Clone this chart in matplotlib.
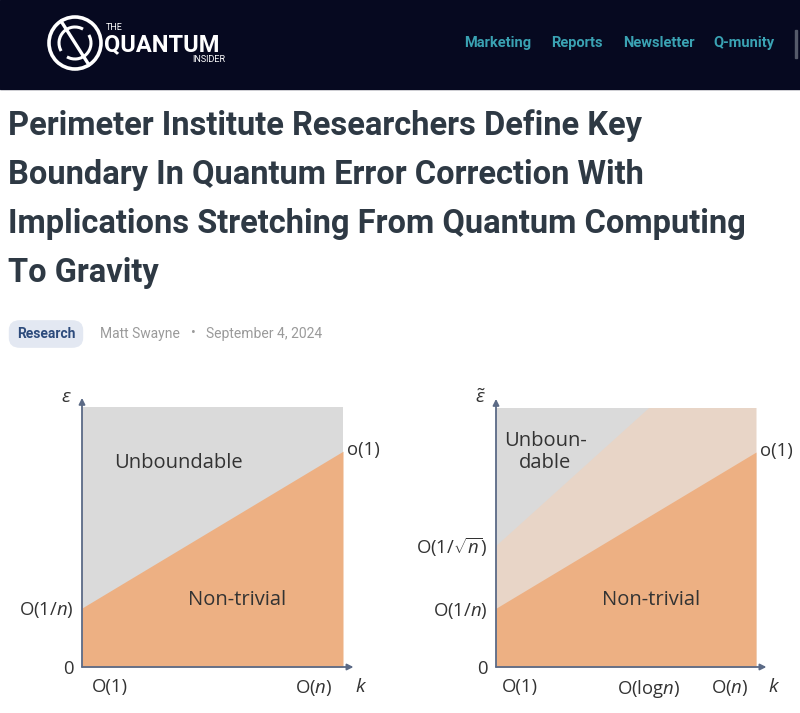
import numpy as np
import matplotlib.pyplot as plt
from matplotlib.patches import Circle, Arc, FancyBboxPatch, Rectangle

plt.rcParams['mathtext.fontset'] = 'custom'
plt.rcParams['mathtext.rm'] = 'Open Sans'
plt.rcParams['mathtext.it'] = 'Open Sans:italic'

W, H = 800, 713

# page text
nav_items = ['Marketing', 'Reports', 'Newsletter', 'Q-munity']
nav_x = [498, 577, 659, 744]
title_lines = ['Perimeter Institute Researchers Define Key',
               'Boundary In Quantum Error Correction With',
               'Implications Stretching From Quantum Computing',
               'To Gravity']
category = 'Research'
author = 'Matt Swayne'
date = 'September 4, 2024'

# chart data (k on x, error on y, both normalised 0..1)
k_edges = [0.0, 1.0]
lower_bound = [0.227, 0.83]          # O(1/n) -> o(1)
upper_bound_right = [0.47, 1.376]    # O(1/sqrt n) -> beyond top
left_xticks = [0.108, 0.888]
left_xlabels = ['O(1)', r'O($n$)']
left_yticks = [0.0, 0.227]
left_ylabels = ['0', r'O(1/$n$)']
right_xticks = [0.092, 0.585, 0.90]
right_xlabels = ['O(1)', r'O(log$n$)', r'O($n$)']
right_yticks = [0.0, 0.227, 0.47]
right_ylabels = ['0', r'O(1/$n$)', r'O(1/$\sqrt{n}$)']

gray = '#dadada'
orange = '#edb083'
tan = '#e8d5c7'
axcol = '#5b6a86'
txt = '#333333'


def fx(x):
    return x / W


def fy(y):
    return 1 - y / H


fig = plt.figure(figsize=(8, 7.13), dpi=100)
fig.patch.set_facecolor('white')

# header bar
fig.patches.append(Rectangle((0, fy(89)), 1, 89 / H, transform=fig.transFigure,
                             color='#060920', zorder=-5))
# logo
hdr = fig.add_axes([fx(44), fy(74), 62 / W, 62 / H])
hdr.set_zorder(5)
hdr.patch.set_alpha(0)
hdr.set_xlim(0, 62)
hdr.set_ylim(0, 62)
hdr.axis('off')
hdr.add_patch(Circle((31, 31), 26, fill=False, ec='white', lw=2.6))
hdr.add_patch(Arc((31, 31), 32, 32, theta1=60, theta2=210, ec='white', lw=2.2))
hdr.add_patch(Arc((31, 31), 32, 32, theta1=240, theta2=30, ec='white', lw=2.2))
hdr.plot([17, 45], [53, 9], color='white', lw=2.4)
fig.text(fx(106), fy(27), 'THE', color='white', fontsize=6.5, family='Roboto',
         va='center', ha='left')
fig.text(fx(104), fy(45), 'QUANTUM', color='white', fontsize=17, family='Roboto',
         weight='bold', va='center', ha='left')
fig.text(fx(225), fy(60), 'INSIDER', color='white', fontsize=6.5, family='Roboto',
         va='center', ha='right')

for name, x in zip(nav_items, nav_x):
    fig.text(fx(x), fy(43), name, color='#3aa2b3', fontsize=10.5, family='Roboto',
             weight='bold', ha='center', va='center')
fig.patches.append(Rectangle((fx(795), fy(58)), 1.5 / W, 28 / H,
                             transform=fig.transFigure, color='#555a6a'))

# title
for i, line in enumerate(title_lines):
    fig.text(fx(8), fy(126 + 49 * i), line, color='#2e3944', fontsize=23.5,
             family='Roboto', weight='bold', ha='left', va='center')

# meta line
fig.patches.append(FancyBboxPatch((fx(12), fy(345)), 68 / W, 22 / H,
                                  boxstyle='round,pad=0.004,rounding_size=0.014',
                                  transform=fig.transFigure, fc='#e3e8f2', ec='none'))
fig.text(fx(46), fy(334), category, color='#2d4b7c', fontsize=10, family='Roboto',
         weight='bold', ha='center', va='center')
fig.text(fx(100), fy(334), author, color='#9a9a9a', fontsize=10, family='Roboto',
         ha='left', va='center')
fig.text(fx(193), fy(333), '\u2022', color='#9a9a9a', fontsize=10, family='Roboto',
         ha='center', va='center')
fig.text(fx(206), fy(334), date, color='#9a9a9a', fontsize=10, family='Roboto',
         ha='left', va='center')


def setup(ax, xticks, xlabels, yticks, ylabels, ylab):
    ax.set_xlim(0, 1)
    ax.set_ylim(0, 1)
    for s in ax.spines.values():
        s.set_visible(False)
    ax.set_xticks(xticks, xlabels)
    ax.set_yticks(yticks, ylabels)
    ax.tick_params(length=0, labelsize=13.3, colors=txt, pad=8)
    ax.tick_params(axis='y', pad=6)
    for lab in ax.get_xticklabels() + ax.get_yticklabels():
        lab.set_family('Open Sans')
    ax.annotate('', xy=(0, 1.035), xytext=(0, 0), xycoords='data',
                arrowprops=dict(arrowstyle='-|>', color=axcol, lw=1.3,
                                mutation_scale=9, shrinkA=0, shrinkB=0),
                annotation_clip=False)
    ax.annotate('', xy=(1.04, 0), xytext=(0, 0), xycoords='data',
                arrowprops=dict(arrowstyle='-|>', color=axcol, lw=1.3,
                                mutation_scale=9, shrinkA=0, shrinkB=0),
                annotation_clip=False)
    ax.text(1.045, -0.075, r'$k$', fontsize=14, color=txt, ha='left', va='center')
    ax.text(-0.06, 1.04, ylab, fontsize=14, color=txt, ha='center', va='center')
    ax.text(1.015, 0.835, 'o(1)', fontsize=13.3, color=txt, ha='left', va='center',
            family='Open Sans')


xs = np.array(k_edges)

# left chart
ax1 = fig.add_axes([fx(82), fy(667), 261 / W, 260 / H])
ax1.fill_between(xs, 0, 1, color=gray, lw=0)
ax1.fill_between(xs, 0, lower_bound, color=orange, lw=0)
setup(ax1, left_xticks, left_xlabels, left_yticks, left_ylabels, r'$\varepsilon$')
ax1.text(0.37, 0.785, 'Unboundable', fontsize=14.5, color=txt, family='Open Sans',
         ha='center', va='center')
ax1.text(0.595, 0.258, 'Non-trivial', fontsize=14.5, color=txt, family='Open Sans',
         ha='center', va='center')

# right chart
ax2 = fig.add_axes([fx(496), fy(667), 260 / W, 259 / H])
ax2.fill_between(xs, 0, 1, color=gray, lw=0)
ax2.fill_between(xs, 0, np.minimum(upper_bound_right, 10), color=tan, lw=0)
ax2.fill_between(xs, 0, lower_bound, color=orange, lw=0)
setup(ax2, right_xticks, right_xlabels, right_yticks, right_ylabels,
      r'$\tilde{\varepsilon}$')
ax2.text(0.19, 0.83, 'Unboun-\ndable', fontsize=14.5, color=txt, family='Open Sans',
         ha='center', va='center', linespacing=1.15)
ax2.text(0.595, 0.258, 'Non-trivial', fontsize=14.5, color=txt, family='Open Sans',
         ha='center', va='center')

fig.savefig('out.png', dpi=100)
